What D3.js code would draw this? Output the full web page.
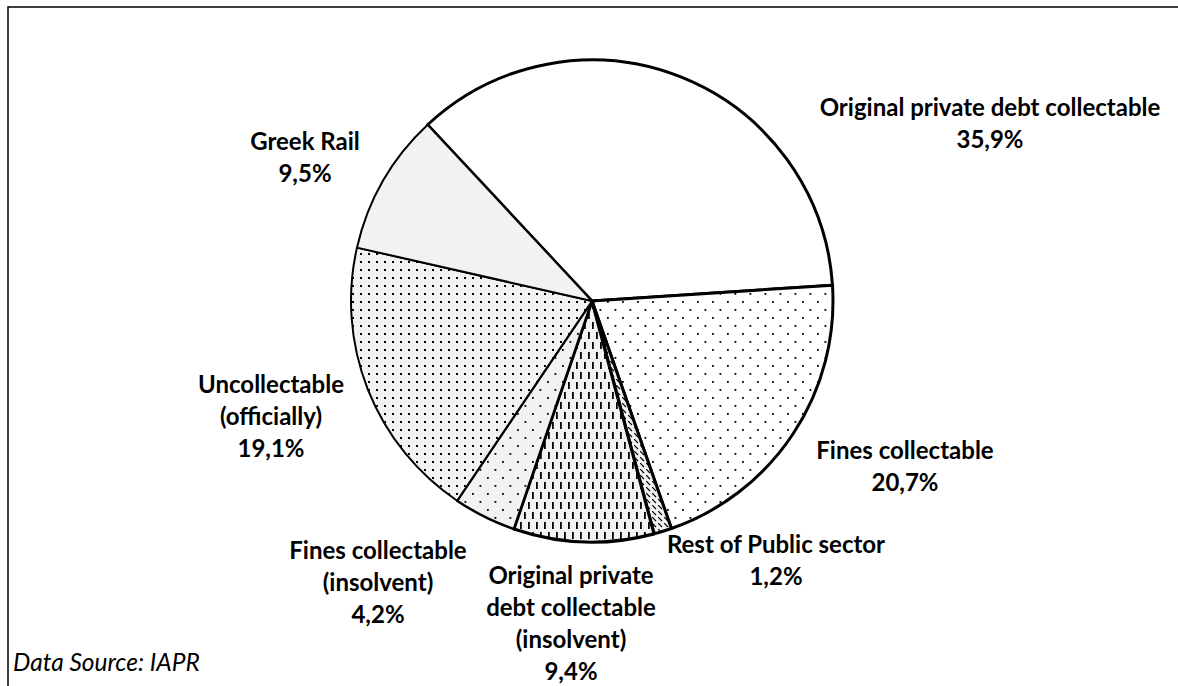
<!DOCTYPE html>
<html>
<head>
<meta charset="utf-8">
<script src="https://cdn.jsdelivr.net/npm/d3@7"></script>
<style>
  body { margin: 0; background: #fff; }
  svg { display: block; }
  .lbl { font-family: Lato, "Open Sans", sans-serif; font-weight: bold; font-size: 24px; fill: #000; }
  .src { font-family: Lato, "Open Sans", sans-serif; font-style: italic; font-size: 24.5px; fill: #000; }
</style>
</head>
<body>
<div id="chart"></div>
<script>
// slices, clockwise from the upper left
var categories = ["Original private debt collectable", "Fines collectable", "Rest of Public sector",
  "Original private debt collectable (insolvent)", "Fines collectable (insolvent)",
  "Uncollectable (officially)", "Greek Rail"];
var shares = [35.9, 20.7, 1.2, 9.4, 4.2, 19.1, 9.5];
var shareLabels = ["35,9%", "20,7%", "1,2%", "9,4%", "4,2%", "19,1%", "9,5%"];
var labelLines = [
  ["Original private debt collectable"],
  ["Fines collectable"],
  ["Rest of Public sector"],
  ["Original private", "debt collectable", "(insolvent)"],
  ["Fines collectable", "(insolvent)"],
  ["Uncollectable", "(officially)"],
  ["Greek Rail"]
];

var width = 1178, height = 686;
var cx = 592, cy = 301, r = 241;

// label anchors (centre x, first baseline), excel placed these by hand
var labelAt = [[990, 116], [905, 459], [776, 553], [571, 584], [378, 559], [271, 393], [305, 150]];
var fills = ["#ffffff", "url(#dotsWide)", "url(#diag)", "url(#vdash)", "url(#dotsWideGray)", "url(#dotsDense)", "#f2f2f2"];
var strokeW = [3, 3, 3, 3.2, 2.5, 2, 2];

var svg = d3.select("#chart").append("svg")
    .attr("width", width)
    .attr("height", height);

var defs = svg.append("defs");

// sparse staggered dots on white
var p1 = defs.append("pattern").attr("id", "dotsWide").attr("patternUnits", "userSpaceOnUse")
    .attr("width", 15).attr("height", 16);
p1.append("rect").attr("width", 15).attr("height", 16).attr("fill", "#fff");
p1.append("rect").attr("x", 0).attr("y", 0).attr("width", 1.8).attr("height", 1.8).attr("fill", "#000");
p1.append("rect").attr("x", 7.5).attr("y", 8).attr("width", 1.8).attr("height", 1.8).attr("fill", "#000");

// same dots on grey
var p2 = defs.append("pattern").attr("id", "dotsWideGray").attr("patternUnits", "userSpaceOnUse")
    .attr("width", 15).attr("height", 16);
p2.append("rect").attr("width", 15).attr("height", 16).attr("fill", "#f2f2f2");
p2.append("rect").attr("x", 0).attr("y", 0).attr("width", 1.8).attr("height", 1.8).attr("fill", "#000");
p2.append("rect").attr("x", 7.5).attr("y", 8).attr("width", 1.8).attr("height", 1.8).attr("fill", "#000");

// dense dots on grey
var p3 = defs.append("pattern").attr("id", "dotsDense").attr("patternUnits", "userSpaceOnUse")
    .attr("width", 8).attr("height", 8);
p3.append("rect").attr("width", 8).attr("height", 8).attr("fill", "#f2f2f2");
p3.append("rect").attr("x", 0).attr("y", 0).attr("width", 2).attr("height", 2).attr("fill", "#000");

// vertical dashes on grey
var p4 = defs.append("pattern").attr("id", "vdash").attr("patternUnits", "userSpaceOnUse")
    .attr("width", 8).attr("height", 20);
p4.append("rect").attr("width", 8).attr("height", 20).attr("fill", "#f2f2f2");
p4.append("rect").attr("x", 0).attr("y", 1).attr("width", 1.8).attr("height", 7).attr("fill", "#000");
p4.append("rect").attr("x", 4).attr("y", 11).attr("width", 1.8).attr("height", 7).attr("fill", "#000");

// small diagonal dashes
var p5 = defs.append("pattern").attr("id", "diag").attr("patternUnits", "userSpaceOnUse")
    .attr("width", 6).attr("height", 6);
p5.append("rect").attr("width", 6).attr("height", 6).attr("fill", "#f2f2f2");
p5.append("path").attr("d", "M0,0L4,4").attr("stroke", "#000").attr("stroke-width", 1.2);

// frame
svg.append("path")
    .attr("d", "M8," + height + "V7H" + width)
    .attr("fill", "none")
    .attr("stroke", "#000")
    .attr("stroke-width", 1.5);

var pie = d3.pie()
    .sort(null)
    .startAngle(-43 * Math.PI / 180)
    .endAngle(-43 * Math.PI / 180 + 2 * Math.PI)
    .value(function(d) { return d; });

var arc = d3.arc().innerRadius(0).outerRadius(r);

var g = svg.append("g").attr("transform", "translate(" + cx + "," + cy + ")");

g.selectAll("path.slice")
    .data(pie(shares))
    .enter()
    .append("path")
    .attr("class", "slice")
    .attr("d", arc)
    .attr("fill", function(d, i) { return fills[i]; })
    .attr("stroke", "#000")
    .attr("stroke-width", function(d, i) { return strokeW[i]; })
    .attr("stroke-linejoin", "round");

// labels
var lineH = 32;
categories.forEach(function(c, i) {
  var lines = labelLines[i].concat([shareLabels[i]]);
  var t = svg.append("text")
      .attr("class", "lbl")
      .attr("text-anchor", "middle");
  lines.forEach(function(s, k) {
    t.append("tspan")
      .attr("x", labelAt[i][0])
      .attr("y", labelAt[i][1] + k * lineH)
      .text(s);
  });
});

svg.append("text")
    .attr("class", "src")
    .attr("x", 13)
    .attr("y", 671)
    .text("Data Source: IAPR");
</script>
</body>
</html>
